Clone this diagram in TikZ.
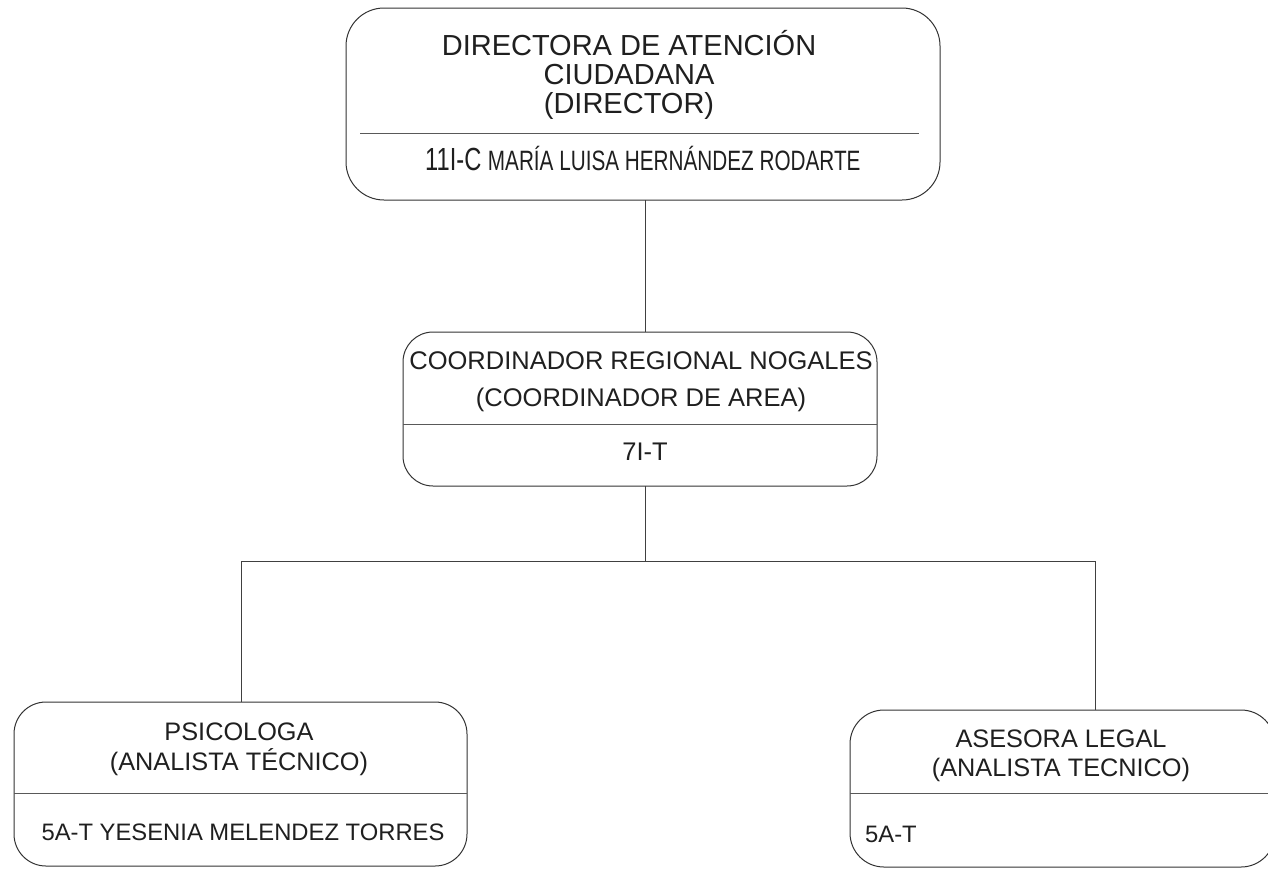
\documentclass[tikz,border=0pt]{standalone}
\usepackage{fontspec}
\setmainfont{Liberation Sans}
\newfontfamily\narrowfont[FakeStretch=0.74]{Liberation Sans}
\begin{document}
\begin{tikzpicture}[x=1pt,y=-1pt,
  box/.style={draw=black!80, line width=1pt, rounded corners=#1, inner sep=0pt, outer sep=0pt},
  rule/.style={draw=black!65, line width=0.9pt},
  conn/.style={draw=black!75, line width=1pt},
  bigtxt/.style={font=\fontsize{29}{31}\selectfont, text=black!88, inner sep=0pt, anchor=base},
  midtxt/.style={font=\fontsize{25.5}{27}\selectfont, text=black!88, inner sep=0pt, anchor=base},
  lowtxt/.style={font=\fontsize{25.3}{27}\selectfont, text=black!88, inner sep=0pt, anchor=base}]
\useasboundingbox (0,0) rectangle (1268,868);
\clip (0,0) rectangle (1268,868);
% boxes
\node[box=38pt, minimum width=594pt, minimum height=192pt] (dir) at (643,104) {};
\node[box=30pt, minimum width=474pt, minimum height=154pt] (coord) at (640,409) {};
\node[box=32pt, minimum width=453pt, minimum height=164pt] (psi) at (240.5,784) {};
\node[box=34pt, minimum width=425pt, minimum height=157pt] (ase) at (1062.5,788.5) {};
% dividers
\draw[rule] (360,133) -- (919,133);
\draw[rule] (coord.west |- 0,424) -- (coord.east |- 0,424);
\draw[rule] (psi.west |- 0,793) -- (psi.east |- 0,793);
\draw[rule] (ase.west |- 0,793) -- (ase.east |- 0,793);
% texts
\node[bigtxt] (d1) at (629,55) {DIRECTORA DE ATENCIÓN};
\node[bigtxt] (d2) at (629,84) {CIUDADANA};
\node[bigtxt] (d3) at (629,113) {(DIRECTOR)};
\node[anchor=base west, inner sep=0pt, text=black!88] (d4) at (425,170)
  {\narrowfont\fontsize{32}{34}\selectfont 11I-C \fontsize{28}{30}\selectfont MARÍA LUISA HERNÁNDEZ RODARTE};
\node[midtxt] (c1) at (641,369) {COORDINADOR REGIONAL NOGALES};
\node[midtxt] (c2) at (641,406) {(COORDINADOR DE AREA)};
\node[midtxt] (c3) at (645,460) {7I-T};
\node[lowtxt] (p1) at (239,740) {PSICOLOGA};
\node[lowtxt] (p2) at (239,770) {(ANALISTA TÉCNICO)};
\node[lowtxt, font=\fontsize{23.8}{25}\selectfont] (p3) at (243,840) {5A-T YESENIA MELENDEZ TORRES};
\node[lowtxt] (a1) at (1061,747) {ASESORA LEGAL};
\node[lowtxt] (a2) at (1061,776) {(ANALISTA TECNICO)};
\node[lowtxt, anchor=base west, font=\fontsize{23.8}{25}\selectfont] (a3) at (865,842) {5A-T};
% connectors
\coordinate (jc) at (645,561);
\coordinate (jl) at (241,561);
\coordinate (jr) at (1095,561);
\draw[conn] (dir.south -| jc) -- (coord.north -| jc);
\draw[conn] (coord.south -| jc) -- (jc);
\draw[conn] (jl) -- (jr);
\draw[conn] (jl) -- (psi.north -| jl);
\draw[conn] (jr) -- (ase.north -| jr);
\end{tikzpicture}
\end{document}
